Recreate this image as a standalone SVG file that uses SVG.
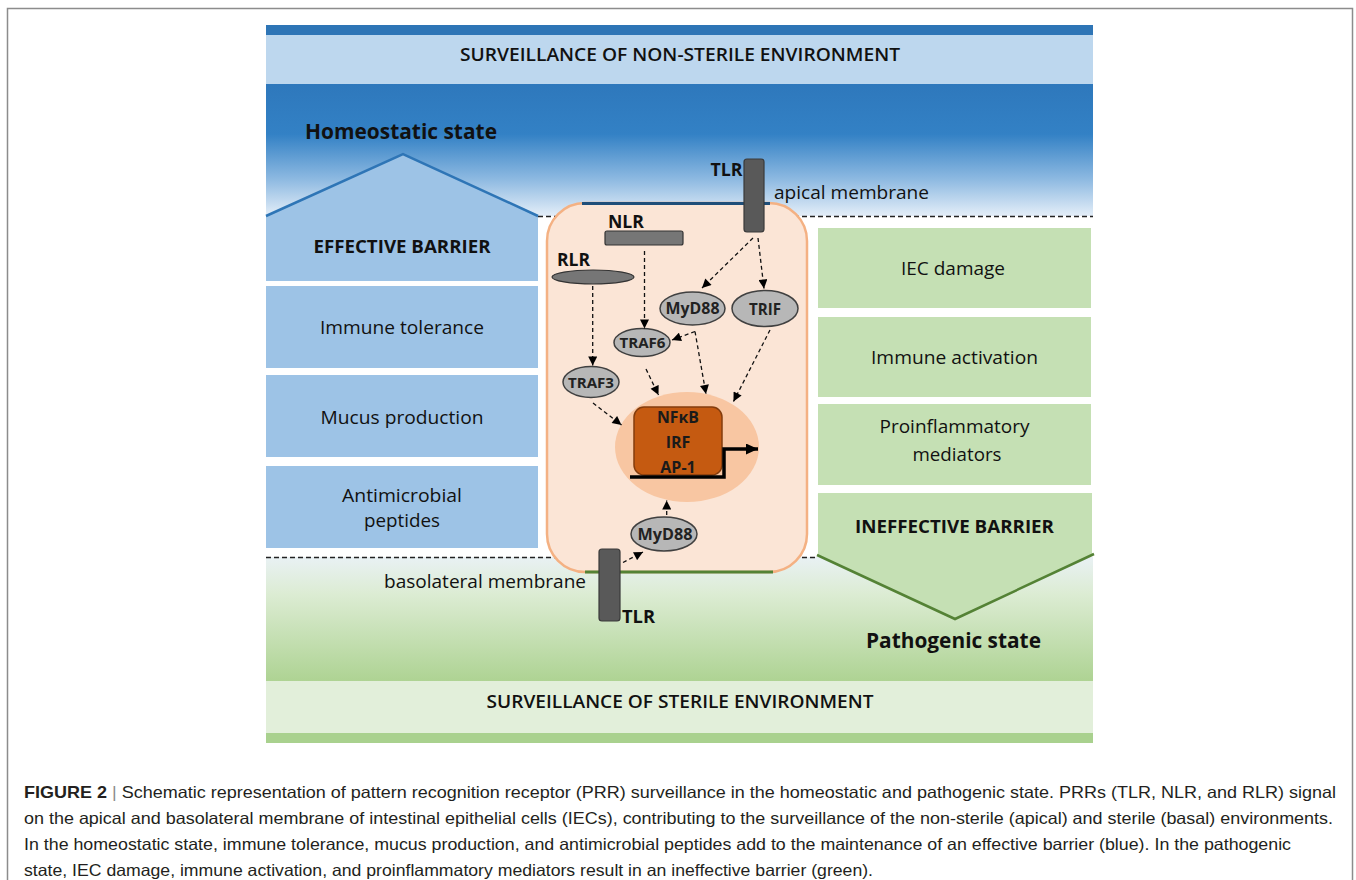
<svg xmlns="http://www.w3.org/2000/svg" width="1356" height="880" viewBox="0 0 1356 880">
<defs>
<linearGradient id="gTop" x1="0" y1="0" x2="0" y2="1">
<stop offset="0" stop-color="#2e78bc"/>
<stop offset="0.38" stop-color="#3381c5"/>
<stop offset="0.72" stop-color="#8db9e1"/>
<stop offset="1" stop-color="#e4eef8"/>
</linearGradient>
<linearGradient id="gBot" x1="0" y1="0" x2="0" y2="1">
<stop offset="0" stop-color="#e9f1f4"/>
<stop offset="0.3" stop-color="#dcecd3"/>
<stop offset="1" stop-color="#aed393"/>
</linearGradient>
<marker id="ah" viewBox="0 0 10 10" refX="10" refY="5" markerWidth="10" markerHeight="9" markerUnits="userSpaceOnUse" orient="auto">
<path d="M0,0 L10,5 L0,10 z" fill="#000"/>
</marker>
<marker id="ahBig" viewBox="0 0 12 11" refX="12" refY="5.5" markerWidth="12" markerHeight="11" markerUnits="userSpaceOnUse" orient="auto">
<path d="M0,0 L12,5.5 L0,11 z" fill="#000"/>
</marker>
<style>
.t{font-family:"Open Sans","Liberation Sans",sans-serif;fill:#111;text-anchor:middle}
.b{font-weight:700}
.box{font-size:18.5px}
.dash{stroke:#222;stroke-width:1.6;stroke-dasharray:5 3;fill:none}
.con{stroke:#111;stroke-width:1.3;stroke-dasharray:4 3;fill:none;marker-end:url(#ah)}
.ell{fill:#b7b7b7;stroke:#404040;stroke-width:1.5}
.el{font-size:15.5px;font-weight:700;fill:#222}
.rec{fill:#595959;stroke:#3a3a3a;stroke-width:1.2}
.cap{font-family:"Liberation Sans",Arial,sans-serif;font-size:16.5px;fill:#231f20}
</style>
</defs>
<rect x="0" y="0" width="1356" height="880" fill="#fff"/>
<rect x="7.5" y="8.5" width="1345" height="900" fill="none" stroke="#8c8c8c" stroke-width="1.5"/>

<g id="background">
<rect x="266" y="25" width="827" height="10" fill="#2e75b6"/>
<rect x="266" y="35" width="827" height="49" fill="#bdd7ee"/>
<rect x="266" y="84" width="827" height="132" fill="url(#gTop)"/>
<rect x="266" y="557" width="827" height="124" fill="url(#gBot)"/>
<rect x="266" y="681" width="827" height="52" fill="#e2efda"/>
<rect x="266" y="733" width="827" height="10" fill="#a9d18e"/>
<line class="dash" x1="538" y1="216.5" x2="1093" y2="216.5"/>
<line class="dash" x1="266" y1="557.5" x2="818" y2="557.5"/>
</g>

<g id="title-top"><text class="t" x="680" y="60.5" style="font-size:18px;font-weight:600" textLength="440" lengthAdjust="spacingAndGlyphs">SURVEILLANCE OF NON-STERILE ENVIRONMENT</text></g>
<g id="title-bottom"><text class="t" x="680" y="707.5" style="font-size:18px;font-weight:600" textLength="387" lengthAdjust="spacingAndGlyphs">SURVEILLANCE OF STERILE ENVIRONMENT</text></g>
<g id="homeostatic-label"><text class="t b" x="401" y="138.5" style="font-size:21px" textLength="192" lengthAdjust="spacingAndGlyphs">Homeostatic state</text></g>
<g id="pathogenic-label"><text class="t b" x="953.5" y="648" style="font-size:21px" textLength="175" lengthAdjust="spacingAndGlyphs">Pathogenic state</text></g>

<g id="effective-barrier">
<polygon points="266,216 403,154 538,216 538,281 266,281" fill="#9dc3e6"/>
<polyline points="266,216 403,154 538,216" fill="none" stroke="#2e75b6" stroke-width="2.5"/>
<text class="t b" x="402" y="252.7" style="font-size:17.5px" textLength="177" lengthAdjust="spacingAndGlyphs">EFFECTIVE BARRIER</text>
</g>
<g id="immune-tolerance">
<rect x="266" y="286" width="272" height="82" fill="#9dc3e6"/>
<text class="t box" x="402" y="334" textLength="164" lengthAdjust="spacingAndGlyphs">Immune tolerance</text>
</g>
<g id="mucus-production">
<rect x="266" y="375" width="272" height="82" fill="#9dc3e6"/>
<text class="t box" x="402" y="424" textLength="163" lengthAdjust="spacingAndGlyphs">Mucus production</text>
</g>
<g id="antimicrobial-peptides">
<rect x="266" y="466" width="272" height="82" fill="#9dc3e6"/>
<text class="t box" x="402" y="501.7" textLength="120" lengthAdjust="spacingAndGlyphs">Antimicrobial</text>
<text class="t box" x="402" y="526.7" textLength="76" lengthAdjust="spacingAndGlyphs">peptides</text>
</g>

<g id="iec-damage">
<rect x="818" y="228" width="273" height="80" fill="#c5e0b4"/>
<text class="t box" x="953" y="275" textLength="104" lengthAdjust="spacingAndGlyphs">IEC damage</text>
</g>
<g id="immune-activation">
<rect x="818" y="317" width="273" height="80" fill="#c5e0b4"/>
<text class="t box" x="954.5" y="364" textLength="167" lengthAdjust="spacingAndGlyphs">Immune activation</text>
</g>
<g id="proinflammatory-mediators">
<rect x="818" y="404" width="273" height="81" fill="#c5e0b4"/>
<text class="t box" x="954.5" y="432.5" textLength="150" lengthAdjust="spacingAndGlyphs">Proinflammatory</text>
<text class="t box" x="957" y="460.7" textLength="89" lengthAdjust="spacingAndGlyphs">mediators</text>
</g>
<g id="ineffective-barrier">
<polygon points="818,493 1092,493 1092,555 955,619 818,555" fill="#c5e0b4"/>
<polyline points="817,555 955,619 1094,554" fill="none" stroke="#548235" stroke-width="2.5"/>
<text class="t b" x="954.5" y="532.7" style="font-size:17.5px" textLength="199" lengthAdjust="spacingAndGlyphs">INEFFECTIVE BARRIER</text>
</g>

<g id="cell">
<rect x="547" y="203" width="260" height="369" rx="38" ry="38" fill="#fbe5d6" stroke="#f4b183" stroke-width="2.5"/>
<line x1="582" y1="203.5" x2="770" y2="203.5" stroke="#1f4e79" stroke-width="3"/>
<line x1="585" y1="572" x2="773" y2="572" stroke="#548235" stroke-width="3"/>
</g>
<g id="apical-membrane-label"><text class="t" x="774" y="199" style="font-size:18px;text-anchor:start" textLength="155" lengthAdjust="spacingAndGlyphs">apical membrane</text></g>
<g id="basolateral-membrane-label"><text class="t" x="384" y="587.7" style="font-size:18px;text-anchor:start" textLength="202" lengthAdjust="spacingAndGlyphs">basolateral membrane</text></g>

<g id="nucleus">
<ellipse cx="687" cy="447" rx="72" ry="55" fill="#f8c6a2"/>
<rect x="634" y="407" width="88" height="68" rx="10" ry="10" fill="#c55a11" stroke="#843c0c" stroke-width="1.5"/>
<text class="t b" x="678" y="423.3" style="font-size:16px;fill:#1a1a1a" textLength="42" lengthAdjust="spacingAndGlyphs">NFκB</text>
<text class="t b" x="678" y="448.3" style="font-size:16px;fill:#1a1a1a">IRF</text>
<text class="t b" x="678" y="472.7" style="font-size:16px;fill:#1a1a1a">AP-1</text>
<polyline points="630,477 724,477 724,449 758,449" fill="none" stroke="#000" stroke-width="3.5" marker-end="url(#ahBig)"/>
</g>

<g id="tlr-apical">
<rect class="rec" x="744" y="159" width="20" height="73" rx="3"/>
<text class="t b" x="726.5" y="176" style="font-size:17px" textLength="32" lengthAdjust="spacingAndGlyphs">TLR</text>
</g>
<g id="tlr-basolateral">
<rect class="rec" x="599" y="549" width="21" height="72" rx="3"/>
<text class="t b" x="638.5" y="622.7" style="font-size:17.5px" textLength="33" lengthAdjust="spacingAndGlyphs">TLR</text>
</g>
<g id="nlr">
<rect x="605" y="231" width="78" height="14" rx="2" fill="#767676" stroke="#333" stroke-width="1.2"/>
<text class="t b" x="626" y="227.7" style="font-size:17.5px" textLength="36" lengthAdjust="spacingAndGlyphs">NLR</text>
</g>
<g id="rlr">
<ellipse cx="593" cy="277" rx="41" ry="7" fill="#767676" stroke="#333" stroke-width="1.2"/>
<text class="t b" x="573.5" y="265.7" style="font-size:17.5px" textLength="33" lengthAdjust="spacingAndGlyphs">RLR</text>
</g>
<g id="myd88-top">
<ellipse class="ell" cx="692.5" cy="308.5" rx="32.5" ry="16.5"/>
<text class="t el" x="692.5" y="314" textLength="54" lengthAdjust="spacingAndGlyphs">MyD88</text>
</g>
<g id="trif">
<ellipse class="ell" cx="765" cy="308.5" rx="33" ry="18"/>
<text class="t el" x="765" y="314.5" textLength="32" lengthAdjust="spacingAndGlyphs">TRIF</text>
</g>
<g id="traf6">
<ellipse class="ell" cx="642" cy="342.5" rx="28" ry="14"/>
<text class="t el" x="642.5" y="348" style="font-size:15px" textLength="46" lengthAdjust="spacingAndGlyphs">TRAF6</text>
</g>
<g id="traf3">
<ellipse class="ell" cx="591" cy="382" rx="28" ry="15.5"/>
<text class="t el" x="591" y="387.5" style="font-size:15px" textLength="46" lengthAdjust="spacingAndGlyphs">TRAF3</text>
</g>
<g id="myd88-bottom">
<ellipse class="ell" cx="664" cy="534" rx="33" ry="17"/>
<text class="t el" x="665" y="539.5" textLength="55" lengthAdjust="spacingAndGlyphs">MyD88</text>
</g>

<g id="connectors">
<line class="con" x1="753" y1="238" x2="702" y2="288"/>
<line class="con" x1="758" y1="238" x2="764" y2="288.5"/>
<line class="con" x1="644.5" y1="251" x2="644.5" y2="328.5"/>
<line class="con" x1="592.7" y1="286" x2="592.7" y2="365.5"/>
<line class="con" x1="695" y1="331.5" x2="672" y2="340"/>
<line class="con" x1="695" y1="331.5" x2="706" y2="394"/>
<line class="con" x1="646" y1="369" x2="658.5" y2="395"/>
<line class="con" x1="770" y1="330" x2="733.5" y2="401.5"/>
<line class="con" x1="593" y1="403" x2="621.5" y2="425"/>
<line class="con" x1="666.7" y1="515" x2="666.7" y2="500.5"/>
<line class="con" x1="623" y1="562.5" x2="643" y2="552"/>
</g>

<g id="caption">
<text class="cap" x="24" y="798" textLength="1312" lengthAdjust="spacingAndGlyphs"><tspan font-weight="700">FIGURE 2</tspan><tspan fill="#8c8c8c"> | </tspan>Schematic representation of pattern recognition receptor (PRR) surveillance in the homeostatic and pathogenic state. PRRs (TLR, NLR, and RLR) signal</text>
<text class="cap" x="24" y="824" textLength="1309" lengthAdjust="spacingAndGlyphs">on the apical and basolateral membrane of intestinal epithelial cells (IECs), contributing to the surveillance of the non-sterile (apical) and sterile (basal) environments.</text>
<text class="cap" x="24" y="850" textLength="1267" lengthAdjust="spacingAndGlyphs">In the homeostatic state, immune tolerance, mucus production, and antimicrobial peptides add to the maintenance of an effective barrier (blue). In the pathogenic</text>
<text class="cap" x="24" y="875.5" textLength="849" lengthAdjust="spacingAndGlyphs">state, IEC damage, immune activation, and proinflammatory mediators result in an ineffective barrier (green).</text>
</g>
</svg>
